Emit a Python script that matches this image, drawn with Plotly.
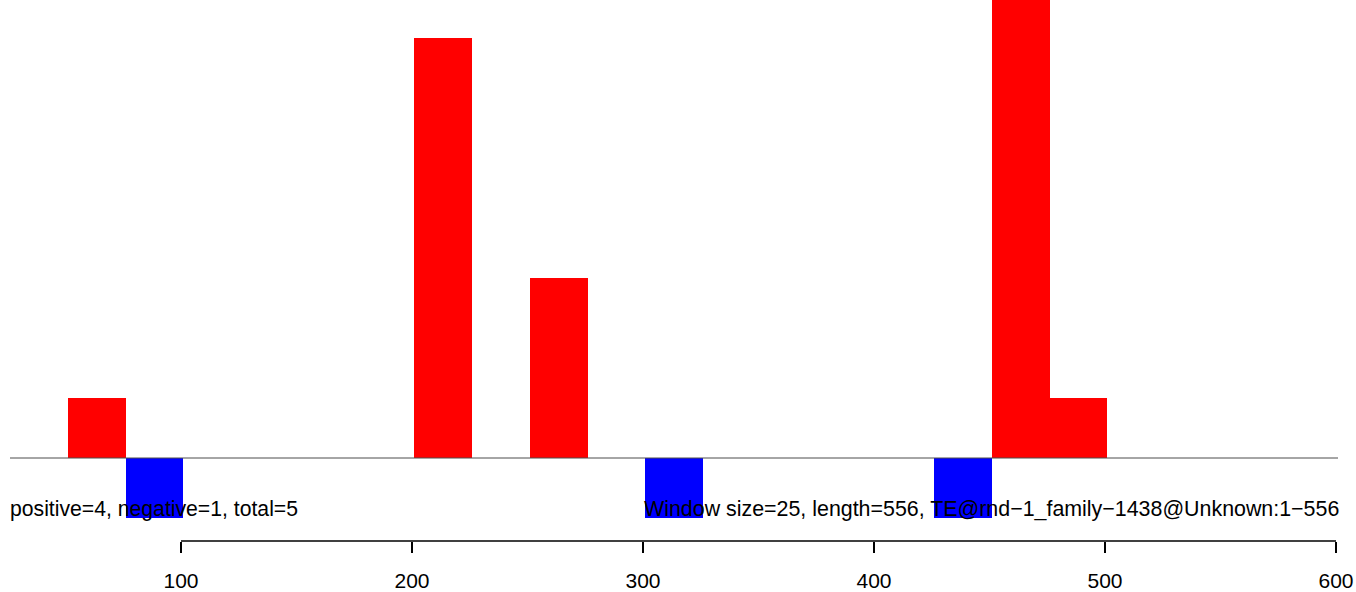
import plotly.graph_objects as go

# Window bins (1-based start positions), window size 25
pos_starts = [51, 201, 251, 451, 476]
pos_counts = [1, 7, 3, 9, 1]
neg_starts = [76, 301, 426]
neg_counts = [-1, -1, -1]
window = 25
tick_vals = [100, 200, 300, 400, 500, 600]
left_label = "positive=4, negative=1, total=5"
right_label = "Window size=25, length=556, TE@rnd\u22121_family\u22121438@Unknown:1\u2212556"

fig = go.Figure()
fig.add_trace(go.Bar(x=[s + window / 2 for s in pos_starts], y=pos_counts, width=window,
                     marker=dict(color="#FF0000", line=dict(width=0)), showlegend=False,
                     hoverinfo="skip"))
fig.add_trace(go.Bar(x=[s + window / 2 for s in neg_starts], y=neg_counts, width=window,
                     marker=dict(color="#0000FF", line=dict(width=0)), showlegend=False,
                     hoverinfo="skip"))

# baseline
fig.add_shape(type="line", xref="paper", x0=0, x1=1, yref="y", y0=0, y1=0,
              line=dict(color="#4d4d4d", width=1), layer="above")
# axis line from first to last tick
fig.add_shape(type="line", xref="x", x0=tick_vals[0], x1=tick_vals[-1], yref="paper", y0=0, y1=0,
              line=dict(color="black", width=1.6))

fig.add_annotation(text=left_label, xref="paper", x=0, xanchor="left", xshift=-2, yref="y", y=-0.85,
                   yanchor="middle", showarrow=False, font=dict(size=21.2, color="black"))
fig.add_annotation(text=right_label, xref="paper", x=1, xanchor="right", xshift=3, yref="y", y=-0.85,
                   yanchor="middle", showarrow=False, font=dict(size=21.4, color="black"))

fig.update_layout(
    width=1356, height=592,
    margin=dict(l=10, r=18, t=0, b=51),
    paper_bgcolor="white", plot_bgcolor="white",
    font=dict(family="Liberation Sans, Arial, sans-serif", size=21, color="black"),
    barmode="overlay", bargap=0,
    xaxis=dict(range=[25.97, 600.87], tickvals=tick_vals, ticks="outside", ticklen=11,
               tickwidth=1.6, tickcolor="black", showgrid=False, zeroline=False,
               showline=False, tickfont=dict(size=21), ticklabelstandoff=10),
    yaxis=dict(range=[-1.383, 7.633], visible=False, showgrid=False, zeroline=False),
)

fig.write_html("out.html", config={"displayModeBar": False},
               post_script="document.body.style.margin='0px';")
